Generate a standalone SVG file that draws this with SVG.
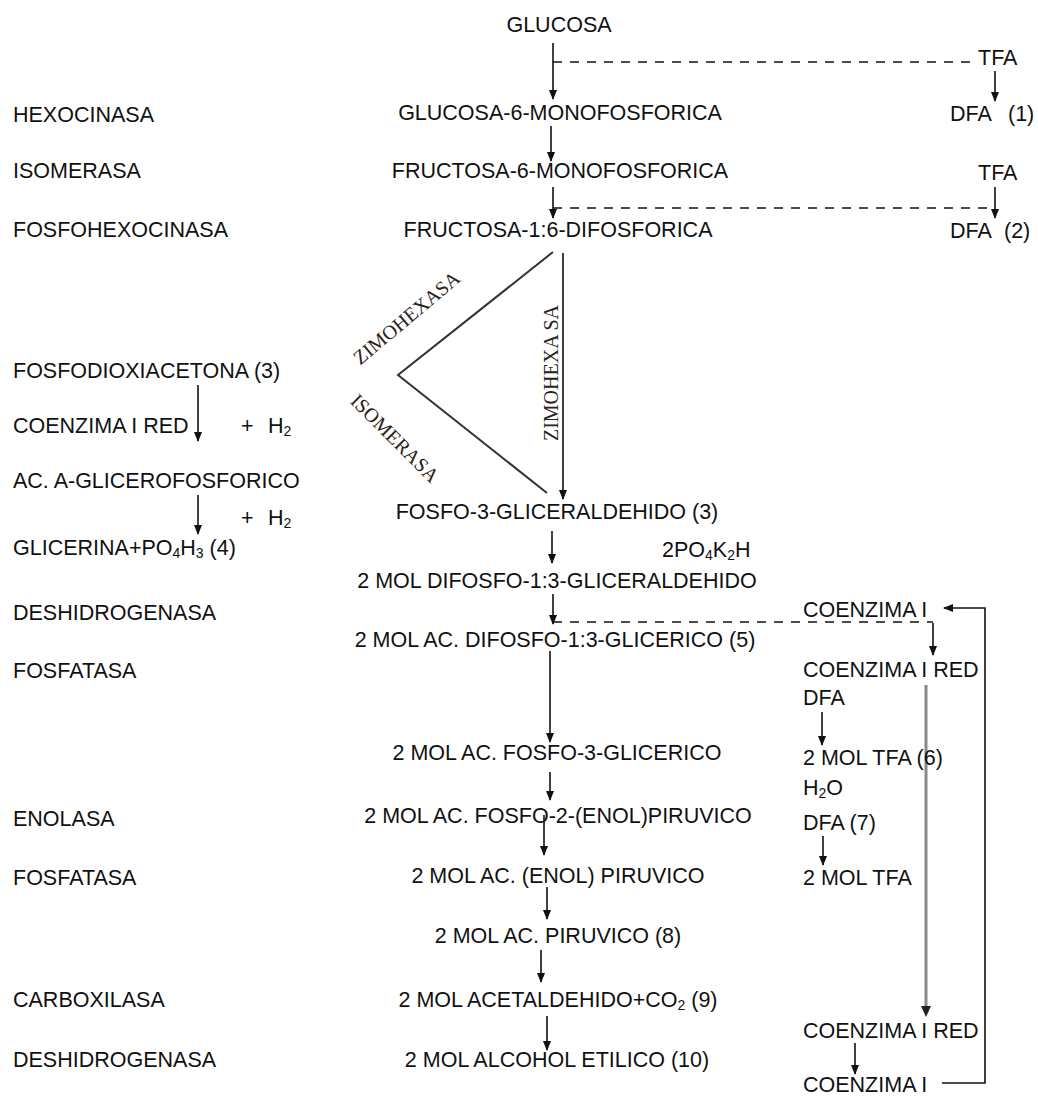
<svg xmlns="http://www.w3.org/2000/svg" width="1038" height="1096" viewBox="0 0 1038 1096">
<style>
text{font-family:"Liberation Sans",Arial,sans-serif;font-size:21.5px;fill:#111}
.c{text-anchor:middle}
.s{font-size:14px}
.enz{font-family:"Liberation Serif","Times New Roman",serif;font-size:20px;fill:#2a2118;text-anchor:middle}
.ln{stroke:#111;stroke-width:1.6;fill:none}
.ar{stroke:#111;stroke-width:1.6;fill:none;marker-end:url(#ah)}
.dash{stroke:#111;stroke-width:1.6;fill:none;stroke-dasharray:9 8}
.tri{stroke:#333;stroke-width:2;fill:none}
</style>
<defs>
<marker id="ah" markerWidth="10" markerHeight="8" refX="9" refY="4" orient="auto" markerUnits="userSpaceOnUse"><path d="M0,0 L10,4 L0,8 z" fill="#111"/></marker>
</defs>
<rect width="1038" height="1096" fill="#fff"/>
<g id="connectors">
<line class="ar" x1="553" y1="43" x2="553" y2="99"/>
<line class="dash" x1="553" y1="62" x2="976" y2="62"/>
<line class="ar" x1="995" y1="71" x2="995" y2="101"/>
<line class="ar" x1="551" y1="126" x2="551" y2="161"/>
<line class="ar" x1="553" y1="187" x2="553" y2="218"/>
<line class="dash" x1="553" y1="208" x2="995" y2="208"/>
<line class="ar" x1="995" y1="187" x2="995" y2="218"/>
<polyline class="tri" points="553,252 398,375 547,493"/>
<line class="ar" x1="563" y1="253" x2="563" y2="499"/>
<line class="ar" x1="198" y1="385" x2="198" y2="441"/>
<line class="ar" x1="198" y1="495" x2="198" y2="534"/>
<line class="ar" x1="552" y1="531" x2="552" y2="563"/>
<line class="ar" x1="553" y1="594" x2="553" y2="624"/>
<line class="dash" x1="553" y1="622" x2="933" y2="622"/>
<line class="ar" x1="933" y1="623" x2="933" y2="655"/>
<line class="ar" x1="550" y1="651" x2="550" y2="742"/>
<line class="ar" x1="550" y1="772" x2="550" y2="800"/>
<line class="ar" x1="544" y1="815" x2="544" y2="855"/>
<line class="ar" x1="547" y1="887" x2="547" y2="919"/>
<line class="ar" x1="541" y1="950" x2="541" y2="982"/>
<line class="ar" x1="547" y1="1016" x2="547" y2="1050"/>
<line class="ar" x1="822" y1="712" x2="822" y2="745"/>
<line class="ar" x1="823" y1="836" x2="823" y2="865"/>
<line x1="926" y1="685" x2="926" y2="1008" stroke="#888" stroke-width="3"/>
<path d="M921,1006 L931,1006 L926,1017 z" fill="#222"/>
<line class="ar" x1="855" y1="1043" x2="855" y2="1074"/>
<polyline class="ar" stroke-width="2" points="942,1083 985,1083 985,608 944,608"/>
</g>
<g id="enzymes-triangle">
<text class="enz" transform="translate(411,323) rotate(-40)">ZIMOHEXASA</text>
<text class="enz" transform="translate(390,443) rotate(45)">ISOMERASA</text>
<text class="enz" transform="translate(558,373) rotate(-90)">ZIMOHEXA SA</text>
</g>
<g id="left-labels">
<g id="n-hexocinasa"><text x="13" y="122">HEXOCINASA</text></g>
<g id="n-isomerasa"><text x="13" y="178">ISOMERASA</text></g>
<g id="n-fosfohexocinasa"><text x="13" y="237">FOSFOHEXOCINASA</text></g>
<g id="n-fosfodioxiacetona"><text x="13" y="378">FOSFODIOXIACETONA (3)</text></g>
<g id="n-coenzima-red-left"><text x="13" y="433">COENZIMA I RED</text></g>
<g id="n-h2-a"><text y="433"><tspan x="241">+</tspan><tspan x="268">H</tspan><tspan class="s" dy="3">2</tspan></text></g>
<g id="n-glicerofosforico"><text x="13" y="488">AC. A-GLICEROFOSFORICO</text></g>
<g id="n-h2-b"><text y="525"><tspan x="241">+</tspan><tspan x="268">H</tspan><tspan class="s" dy="3">2</tspan></text></g>
<g id="n-glicerina"><text x="13" y="555">GLICERINA+PO<tspan class="s" dy="3">4</tspan><tspan dy="-3">H</tspan><tspan class="s" dy="3">3</tspan><tspan dy="-3"> (4)</tspan></text></g>
<g id="n-deshidrogenasa-1"><text x="13" y="620">DESHIDROGENASA</text></g>
<g id="n-fosfatasa-1"><text x="13" y="678">FOSFATASA</text></g>
<g id="n-enolasa"><text x="13" y="826">ENOLASA</text></g>
<g id="n-fosfatasa-2"><text x="13" y="885">FOSFATASA</text></g>
<g id="n-carboxilasa"><text x="13" y="1007">CARBOXILASA</text></g>
<g id="n-deshidrogenasa-2"><text x="13" y="1067">DESHIDROGENASA</text></g>
</g>
<g id="main-chain">
<g id="n-glucosa"><text class="c" x="559" y="32">GLUCOSA</text></g>
<g id="n-glucosa6"><text class="c" x="560" y="120">GLUCOSA-6-MONOFOSFORICA</text></g>
<g id="n-fructosa6"><text class="c" x="560" y="178">FRUCTOSA-6-MONOFOSFORICA</text></g>
<g id="n-fructosa16"><text class="c" x="558" y="237">FRUCTOSA-1:6-DIFOSFORICA</text></g>
<g id="n-fosfo3"><text class="c" x="557" y="519">FOSFO-3-GLICERALDEHIDO (3)</text></g>
<g id="n-2po4k2h"><text x="662" y="557">2PO<tspan class="s" dy="3">4</tspan><tspan dy="-3">K</tspan><tspan class="s" dy="3">2</tspan><tspan dy="-3">H</tspan></text></g>
<g id="n-difosfo-ald"><text class="c" x="557" y="588">2 MOL DIFOSFO-1:3-GLICERALDEHIDO</text></g>
<g id="n-difosfo-glic"><text class="c" x="555" y="647">2 MOL AC. DIFOSFO-1:3-GLICERICO (5)</text></g>
<g id="n-fosfo3-glic"><text class="c" x="557" y="760">2 MOL AC. FOSFO-3-GLICERICO</text></g>
<g id="n-fosfo2"><text class="c" x="558" y="823">2 MOL AC. FOSFO-2-(ENOL)PIRUVICO</text></g>
<g id="n-enol"><text class="c" x="558" y="883">2 MOL AC. (ENOL) PIRUVICO</text></g>
<g id="n-piruvico"><text class="c" x="558" y="943">2 MOL AC. PIRUVICO (8)</text></g>
<g id="n-acetaldehido"><text class="c" x="558" y="1007">2 MOL ACETALDEHIDO+CO<tspan class="s" dy="3">2</tspan><tspan dy="-3"> (9)</tspan></text></g>
<g id="n-alcohol"><text class="c" x="557" y="1067">2 MOL ALCOHOL ETILICO (10)</text></g>
</g>
<g id="right-column">
<g id="n-tfa1"><text x="978" y="65">TFA</text></g>
<g id="n-dfa1"><text y="121"><tspan x="950">DFA</tspan><tspan x="1008">(1)</tspan></text></g>
<g id="n-tfa2"><text x="978" y="180">TFA</text></g>
<g id="n-dfa2"><text y="238"><tspan x="950">DFA</tspan><tspan x="1004">(2)</tspan></text></g>
<g id="n-coenzima1"><text x="803" y="617">COENZIMA I</text></g>
<g id="n-coenzimared1"><text x="803" y="677">COENZIMA I RED</text></g>
<g id="n-dfa3"><text x="803" y="705">DFA</text></g>
<g id="n-tfa6"><text x="803" y="765">2 MOL TFA (6)</text></g>
<g id="n-h2o"><text x="803" y="795">H<tspan class="s" dy="3">2</tspan><tspan dy="-3">O</tspan></text></g>
<g id="n-dfa7"><text x="803" y="830">DFA (7)</text></g>
<g id="n-tfa-b"><text x="803" y="885">2 MOL TFA</text></g>
<g id="n-coenzimared2"><text x="803" y="1038">COENZIMA I RED</text></g>
<g id="n-coenzima2"><text x="803" y="1092">COENZIMA I</text></g>
</g>
</svg>
